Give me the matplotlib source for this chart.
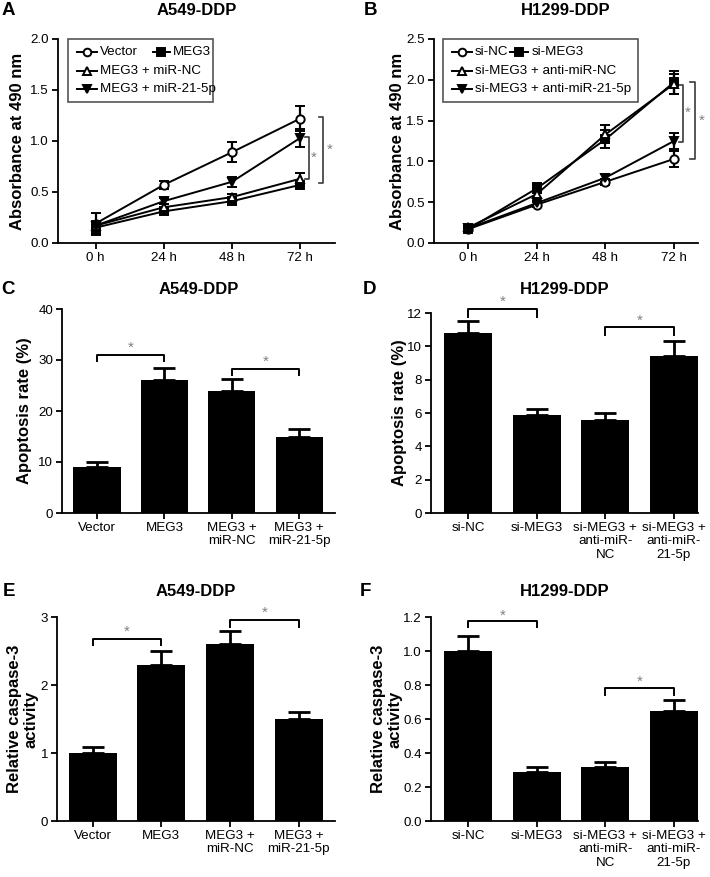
import matplotlib
matplotlib.use('Agg')
import matplotlib.pyplot as plt
from matplotlib.lines import Line2D
from matplotlib.patches import Rectangle
from matplotlib.ticker import FormatStrFormatter
import numpy as np

plt.rcParams['font.family'] = ['Liberation Sans', 'DejaVu Sans']

# ---- data ----
times = ['0 h', '24 h', '48 h', '72 h']

# A: A549-DDP absorbance
a_vector = [0.19, 0.57, 0.89, 1.22]
a_vector_err = [0.10, 0.04, 0.10, 0.12]
a_meg3 = [0.15, 0.31, 0.41, 0.57]
a_meg3_err = [0.07, 0.03, 0.03, 0.03]
a_mirnc = [0.17, 0.35, 0.45, 0.63]
a_mirnc_err = [0.03, 0.03, 0.03, 0.06]
a_mir21 = [0.17, 0.41, 0.60, 1.03]
a_mir21_err = [0.03, 0.03, 0.05, 0.09]
a_names = ['Vector', 'MEG3', 'MEG3 + miR-NC', 'MEG3 + miR-21-5p']

# B: H1299-DDP absorbance
b_sinc = [0.17, 0.47, 0.75, 1.03]
b_sinc_err = [0.02, 0.03, 0.04, 0.10]
b_simeg3 = [0.17, 0.67, 1.27, 1.97]
b_simeg3_err = [0.02, 0.06, 0.11, 0.14]
b_antinc = [0.19, 0.60, 1.33, 1.95]
b_antinc_err = [0.02, 0.05, 0.11, 0.12]
b_anti21 = [0.18, 0.49, 0.80, 1.25]
b_anti21_err = [0.02, 0.03, 0.05, 0.10]
b_names = ['si-NC', 'si-MEG3', 'si-MEG3 + anti-miR-NC', 'si-MEG3 + anti-miR-21-5p']

# bar panels
a549_groups = ['Vector', 'MEG3', 'MEG3 +\nmiR-NC', 'MEG3 +\nmiR-21-5p']
h1299_groups = ['si-NC', 'si-MEG3', 'si-MEG3 +\nanti-miR-\nNC', 'si-MEG3 +\nanti-miR-\n21-5p']

c_apop = [9.0, 26.0, 24.0, 15.0]
c_apop_err = [1.0, 2.5, 2.3, 1.5]
d_apop = [10.8, 5.9, 5.6, 9.4]
d_apop_err = [0.7, 0.35, 0.4, 0.9]
e_casp = [1.0, 2.3, 2.6, 1.5]
e_casp_err = [0.09, 0.2, 0.19, 0.1]
f_casp = [1.0, 0.29, 0.32, 0.65]
f_casp_err = [0.09, 0.03, 0.03, 0.06]

# significance brackets (group i, group j, bracket y, drop, star y)
c_sig = [(0, 1, 31.0, 1.2, 32.4), (2, 3, 28.3, 1.3, 29.6)]
d_sig = [(0, 1, 12.24, 0.45, 12.65), (2, 3, 11.16, 0.45, 11.55)]
e_sig = [(0, 1, 2.68, 0.09, 2.78), (2, 3, 2.96, 0.1, 3.06)]
f_sig = [(0, 1, 1.174, 0.035, 1.21), (2, 3, 0.785, 0.043, 0.82)]

# line-panel brackets (x, y_low, y_high, tick length, star x)
a_sig = [(3.13, 0.63, 1.04, 0.06, 3.20), (3.34, 0.59, 1.235, 0.07, 3.43)]
b_sig = [(3.13, 1.24, 1.94, 0.06, 3.20), (3.30, 1.03, 1.97, 0.07, 3.41)]

W, H = 710, 877
fig = plt.figure(figsize=(W / 100, H / 100), dpi=100)


def px_axes(x0, x1, ytop, ybot):
    return fig.add_axes([x0 / W, 1 - ybot / H, (x1 - x0) / W, (ybot - ytop) / H])


def style(ax):
    for s in ['top', 'right']:
        ax.spines[s].set_visible(False)
    for s in ['left', 'bottom']:
        ax.spines[s].set_linewidth(1.3)
    ax.tick_params(width=1.3, length=4, labelsize=9.6, pad=2.5, direction='out')


def header(ax, letter, title, baseline_px, letter_x):
    pos = ax.get_position()
    fig.text(pos.x0 + pos.width / 2, 1 - baseline_px / H, title, ha='center',
             va='baseline', fontsize=12, fontweight='bold')
    fig.text(letter_x / W, 1 - baseline_px / H, letter, ha='left', va='baseline',
             fontsize=13.5, fontweight='bold')


markers = [('o', 'white'), ('s', 'black'), ('^', 'white'), ('v', 'black')]


def line_panel(ax, series, errs, ylim, yticks, sig, xlim):
    x = np.arange(len(times))
    for (m, fc), y, e in zip(markers, series, errs):
        ax.errorbar(x, y, yerr=e, color='black', marker=m, mfc=fc, mec='black',
                    mew=1.4, ms=6, lw=1.4, elinewidth=1.6, capsize=3.8, capthick=1.8)
    ax.set_xticks(x)
    ax.set_xticklabels(times)
    ax.set_xlim(*xlim)
    ax.set_ylim(*ylim)
    ax.set_yticks(yticks)
    ax.yaxis.set_major_formatter(FormatStrFormatter('%.1f'))
    for bx, ylo, yhi, tl, sx in sig:
        ax.plot([bx - tl, bx, bx, bx - tl], [ylo, ylo, yhi, yhi], color='#3a3a3a',
                lw=1.2, clip_on=False)
        ax.text(sx, (ylo + yhi) / 2, '*', color='#808080', fontsize=11,
                ha='center', va='center', clip_on=False)
    ax.set_ylabel('Absorbance at 490 nm', fontsize=12, fontweight='bold')


def manual_legend(ax, box, rows):
    # box: (x0, y0, x1, y1) in axes fraction; rows: (hx0, hx1, tx, y, marker idx, label)
    ax.add_patch(Rectangle((box[0], box[1]), box[2] - box[0], box[3] - box[1],
                           transform=ax.transAxes, fill=False, ec='#555555', lw=1.2,
                           clip_on=False, zorder=5))
    for hx0, hx1, tx, y, mi, label in rows:
        m, fc = markers[mi]
        ax.add_line(Line2D([hx0, hx1], [y, y], transform=ax.transAxes, color='black',
                           lw=1.4, zorder=6))
        ax.add_line(Line2D([(hx0 + hx1) / 2], [y], transform=ax.transAxes, marker=m,
                           mfc=fc, mec='black', mew=1.4, ms=5.5, color='black', zorder=6))
        ax.text(tx, y, label, transform=ax.transAxes, fontsize=9.6, va='center',
                ha='left', zorder=6)


def bar_panel(ax, groups, vals, errs, ylim, yticks, sig, xlim, ylabel, fmt=None):
    x = np.arange(len(groups))
    ax.bar(x, vals, width=0.7, color='black', zorder=2)
    ax.errorbar(x, vals, yerr=[np.zeros(len(vals)), errs], fmt='none', ecolor='black',
                elinewidth=2.0, capsize=8, capthick=2.0, zorder=1)
    ax.set_xticks(x)
    ax.set_xticklabels(groups, linespacing=1.15)
    ax.set_xlim(*xlim)
    ax.set_ylim(*ylim)
    ax.set_yticks(yticks)
    if fmt:
        ax.yaxis.set_major_formatter(FormatStrFormatter(fmt))
    for i, j, by, dr, sy in sig:
        ax.plot([i, i, j, j], [by - dr, by, by, by - dr], color='black', lw=1.4,
                clip_on=False)
        ax.text((i + j) / 2, sy, '*', color='#808080', fontsize=11, ha='center',
                va='center', clip_on=False)
    ax.set_ylabel(ylabel, fontsize=12, fontweight='bold', linespacing=1.1)


# ---- A ----
axA = px_axes(58, 335, 39, 243)
style(axA)
line_panel(axA, [a_vector, a_meg3, a_mirnc, a_mir21],
           [a_vector_err, a_meg3_err, a_mirnc_err, a_mir21_err],
           (0, 2.0), [0, 0.5, 1.0, 1.5, 2.0], a_sig, (-0.55, 3.51))
axA.yaxis.set_label_coords(-0.119, 0.5)
manual_legend(axA, (0.036, 0.69, 0.56, 1.0),
              [(0.069, 0.141, 0.152, 0.936, 0, a_names[0]),
               (0.343, 0.404, 0.415, 0.936, 1, a_names[1]),
               (0.069, 0.141, 0.152, 0.843, 2, a_names[2]),
               (0.069, 0.141, 0.152, 0.755, 3, a_names[3])])
header(axA, 'A', 'A549-DDP', 15, 2)

# ---- B ----
axB = px_axes(434, 698, 39, 243)
style(axB)
line_panel(axB, [b_sinc, b_simeg3, b_antinc, b_anti21],
           [b_sinc_err, b_simeg3_err, b_antinc_err, b_anti21_err],
           (0, 2.5), [0, 0.5, 1.0, 1.5, 2.0, 2.5], b_sig, (-0.5, 3.35))
axB.yaxis.set_label_coords(-0.108, 0.5)
manual_legend(axB, (0.034, 0.69, 0.773, 1.0),
              [(0.068, 0.144, 0.155, 0.936, 0, b_names[0]),
               (0.288, 0.356, 0.371, 0.936, 1, b_names[1]),
               (0.068, 0.144, 0.155, 0.843, 2, b_names[2]),
               (0.068, 0.144, 0.155, 0.755, 3, b_names[3])])
header(axB, 'B', 'H1299-DDP', 15, 364)

# ---- C ----
axC = px_axes(62, 335, 309, 513)
style(axC)
bar_panel(axC, a549_groups, c_apop, c_apop_err, (0, 40), [0, 10, 20, 30, 40], c_sig,
          (-0.52, 3.53), 'Apoptosis rate (%)')
axC.yaxis.set_label_coords(-0.11, 0.5)
header(axC, 'C', 'A549-DDP', 294, 1)

# ---- D ----
axD = px_axes(431, 698, 313, 513)
style(axD)
bar_panel(axD, h1299_groups, d_apop, d_apop_err, (0, 12), [0, 2, 4, 6, 8, 10, 12],
          d_sig, (-0.54, 3.35), 'Apoptosis rate (%)')
axD.yaxis.set_label_coords(-0.09, 0.5)
header(axD, 'D', 'H1299-DDP', 294, 363)

# ---- E ----
axE = px_axes(57, 335, 617, 821)
style(axE)
bar_panel(axE, a549_groups, e_casp, e_casp_err, (0, 3), [0, 1, 2, 3], e_sig,
          (-0.52, 3.53), 'Relative caspase-3\nactivity')
axE.yaxis.set_label_coords(-0.068, 0.5)
header(axE, 'E', 'A549-DDP', 596, 3)

# ---- F ----
axF = px_axes(431, 698, 617, 821)
style(axF)
bar_panel(axF, h1299_groups, f_casp, f_casp_err, (0, 1.2),
          [0, 0.2, 0.4, 0.6, 0.8, 1.0, 1.2], f_sig, (-0.54, 3.35),
          'Relative caspase-3\nactivity', fmt='%.1f')
axF.yaxis.set_label_coords(-0.108, 0.5)
header(axF, 'F', 'H1299-DDP', 596, 360)

fig.savefig('out.png', dpi=100)
